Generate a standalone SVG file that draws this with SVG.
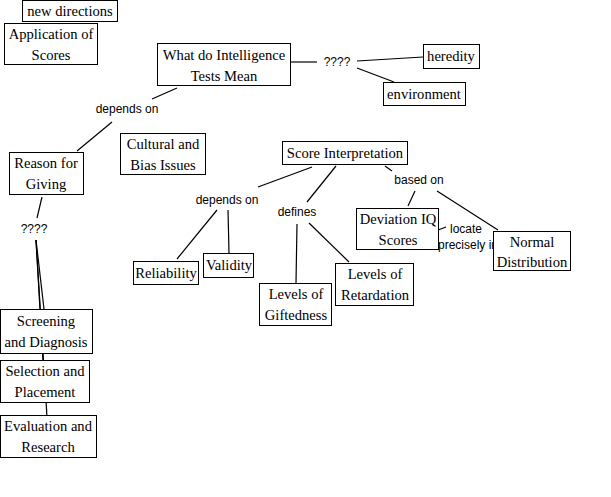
<svg xmlns="http://www.w3.org/2000/svg" width="611" height="497" viewBox="0 0 611 497">
<style>
.box{fill:#fff;stroke:#000;stroke-width:1}
.t{font-family:"Liberation Serif","Times New Roman",serif;font-size:14.6px;fill:#000;text-anchor:middle}
.l{font-family:"Liberation Sans",Arial,sans-serif;font-size:12px;fill:#000;text-anchor:middle}
.c line{stroke:#000;stroke-width:1.2}
</style>
<rect width="611" height="497" fill="#fff"/>
<g id="label-locate"><text class="l" x="466" y="233">locate</text><text class="l" x="468" y="249">precisely in</text></g>
<g class="c" id="connectors">
<line x1="177" y1="88" x2="152" y2="99"/>
<line x1="112" y1="122" x2="77" y2="151"/>
<line x1="291" y1="62" x2="317" y2="62"/>
<line x1="357" y1="61" x2="423" y2="57"/>
<line x1="357" y1="68" x2="394" y2="82"/>
<line x1="42" y1="197" x2="37" y2="218"/>
<line x1="36" y1="240" x2="44" y2="309"/>
<line x1="36" y1="240" x2="43" y2="362"/>
<line x1="36" y1="240" x2="47" y2="417"/>
<line x1="312" y1="167" x2="258" y2="187"/>
<line x1="217" y1="210" x2="177" y2="259"/>
<line x1="228" y1="210" x2="229" y2="253"/>
<line x1="336" y1="166" x2="307" y2="202"/>
<line x1="297" y1="224" x2="296" y2="283"/>
<line x1="309" y1="223" x2="349" y2="262"/>
<line x1="385" y1="166" x2="392" y2="171"/>
<line x1="415" y1="191" x2="408" y2="206"/>
<line x1="437" y1="191" x2="498" y2="230"/>
<line x1="438" y1="230" x2="446" y2="227"/>
</g>
<g id="n-newdir"><rect class="box" x="22.5" y="0.5" width="95" height="21"/><text class="t" x="70" y="16">new directions</text></g>
<g id="n-app"><rect class="box" x="4.5" y="23.5" width="93" height="41"/><text class="t" x="51" y="39">Application of</text><text class="t" x="51" y="60">Scores</text></g>
<g id="n-what"><rect class="box" x="157.5" y="43.5" width="133" height="42"/><text class="t" x="224" y="60">What do Intelligence</text><text class="t" x="224" y="81">Tests Mean</text></g>
<g id="lab-dep1"><text class="l" x="127" y="113">depends on</text></g>
<g id="lab-q1"><text class="l" x="337" y="66">????</text></g>
<g id="n-heredity"><rect class="box" x="423.5" y="44.5" width="56" height="24"/><text class="t" x="451" y="61">heredity</text></g>
<g id="n-env"><rect class="box" x="383.5" y="82.5" width="82" height="23"/><text class="t" x="424" y="99">environment</text></g>
<g id="n-cultural"><rect class="box" x="120.5" y="133.5" width="85" height="41"/><text class="t" x="163" y="149">Cultural and</text><text class="t" x="163" y="170">Bias Issues</text></g>
<g id="n-reason"><rect class="box" x="9.5" y="152.5" width="74" height="42"/><text class="t" x="46" y="168">Reason for</text><text class="t" x="46" y="189">Giving</text></g>
<g id="lab-q2"><text class="l" x="34" y="233">????</text></g>
<g id="n-score"><rect class="box" x="282.5" y="141.5" width="125" height="23"/><text class="t" x="345" y="158">Score Interpretation</text></g>
<g id="lab-dep2"><text class="l" x="227" y="204">depends on</text></g>
<g id="lab-defines"><text class="l" x="297" y="216">defines</text></g>
<g id="lab-based"><text class="l" x="419" y="184">based on</text></g>
<g id="n-rel"><rect class="box" x="133.5" y="261.5" width="65" height="23"/><text class="t" x="166" y="278">Reliability</text></g>
<g id="n-val"><rect class="box" x="203.5" y="253.5" width="50" height="24"/><text class="t" x="229" y="270">Validity</text></g>
<g id="n-gift"><rect class="box" x="259.5" y="283.5" width="72" height="42"/><text class="t" x="296" y="299">Levels of</text><text class="t" x="296" y="320">Giftedness</text></g>
<g id="n-ret"><rect class="box" x="335.5" y="263.5" width="78" height="42"/><text class="t" x="375" y="279">Levels of</text><text class="t" x="375" y="300">Retardation</text></g>
<g id="n-dev"><rect class="box" x="356.5" y="208.5" width="82" height="41"/><text class="t" x="398" y="224">Deviation IQ</text><text class="t" x="398" y="245">Scores</text></g>
<g id="n-normal"><rect class="box" x="493.5" y="231.5" width="77" height="39"/><text class="t" x="532" y="247">Normal</text><text class="t" x="532" y="267">Distribution</text></g>
<g id="n-screen"><rect class="box" x="0.5" y="309.5" width="92" height="44"/><text class="t" x="46" y="326">Screening</text><text class="t" x="46" y="347">and Diagnosis</text></g>
<g id="n-select"><rect class="box" x="0.5" y="360.5" width="89" height="42"/><text class="t" x="45" y="376">Selection and</text><text class="t" x="45" y="397">Placement</text></g>
<g id="n-eval"><rect class="box" x="0.5" y="415.5" width="96" height="42"/><text class="t" x="48" y="431">Evaluation and</text><text class="t" x="48" y="452">Research</text></g>
</svg>
